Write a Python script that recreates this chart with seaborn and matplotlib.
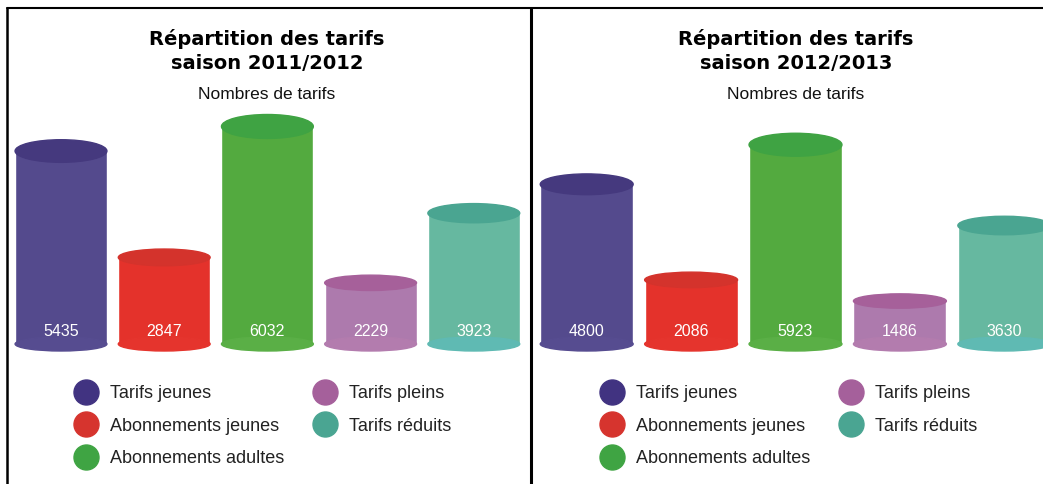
import matplotlib.pyplot as plt
import seaborn as sns
from matplotlib.patches import Ellipse
from matplotlib.lines import Line2D

# data
categories = ['Tarifs jeunes', 'Abonnements jeunes', 'Abonnements adultes',
              'Tarifs pleins', 'Tarifs réduits']
values_2011 = [5435, 2847, 6032, 2229, 3923]
values_2012 = [4800, 2086, 5923, 1486, 3630]
seasons = ['2011/2012', '2012/2013']

body_colors = ['#544a8d', '#e4322b', '#53aa3f', '#ad7aad', '#66b8a0']
top_colors = ['#45397e', '#d4332c', '#3fa343', '#a6609a', '#4aa591']
base_colors = ['#564c90', '#e5342d', '#5aaf46', '#b37cae', '#5fbab3']
legend_colors = ['#413381', '#d6342e', '#3fa443', '#a5609b', '#4aa592']

W, H = 1043, 484
BAR_W = 0.89

sns.set_style('white')
plt.rcParams['font.family'] = ['Liberation Sans', 'DejaVu Sans']

fig = plt.figure(figsize=(W / 100, H / 100), dpi=100)


def px_axes(x0, x1, y_top, y_bot):
    return fig.add_axes([x0 / W, 1 - y_bot / H, (x1 - x0) / W, (y_bot - y_top) / H])


panels = [
    dict(values=values_2011, season=seasons[0], x0=7, x1=530, c0=61, step=103.2,
         ylim=(741, 6676), tx=267, lx=77),
    dict(values=values_2012, season=seasons[1], x0=531, x1=1043, c0=586.7, step=104.4,
         ylim=(266, 7193), tx=796, lx=603),
]

Y_TOP, Y_BASE = 100, 344

for p in panels:
    ax = px_axes(p['x0'], p['x1'], Y_TOP, Y_BASE)
    sns.barplot(x=categories, y=p['values'], hue=categories, palette=body_colors,
                width=BAR_W, saturation=1, legend=False, ax=ax)
    lo = -(p['c0'] - p['x0']) / p['step']
    ax.set_xlim(lo, lo + (p['x1'] - p['x0']) / p['step'])
    ymin, ymax = p['ylim']
    ax.set_ylim(ymin, ymax)
    ax.axis('off')

    ppu = (Y_BASE - Y_TOP) / (ymax - ymin)  # pixels per value unit
    for i, v in enumerate(p['values']):
        h_px = (v - ymin) * ppu
        e_px = 12 + 0.055 * h_px
        ax.add_patch(Ellipse((i, v), BAR_W, e_px / ppu, color=top_colors[i],
                             zorder=4, clip_on=False))
        ax.add_patch(Ellipse((i, ymin), BAR_W, 14 / ppu, color=base_colors[i],
                             zorder=3, clip_on=False))
        ax.annotate(str(v), (i, ymin), xytext=(0, 8), textcoords='offset pixels',
                    ha='center', va='baseline', color='white', fontsize=11.5,
                    zorder=5)

    fig.text(p['tx'] / W, 1 - 45 / H, 'Répartition des tarifs', ha='center',
             va='baseline', fontsize=14, fontweight='bold', family='DejaVu Sans',
             color='black')
    fig.text(p['tx'] / W, 1 - 69.3 / H, 'saison ' + p['season'], ha='center',
             va='baseline', fontsize=14, fontweight='bold', family='DejaVu Sans',
             color='black')
    fig.text(p['tx'] / W, 1 - 99 / H, 'Nombres de tarifs', ha='center',
             va='baseline', fontsize=12.5, color='#111111')

    handles = [Line2D([], [], ls='', marker='o', markersize=18,
                      markerfacecolor=c, markeredgecolor=c) for c in legend_colors]
    ax.legend(handles, categories, ncol=2, loc='upper left',
              bbox_to_anchor=(p['lx'] / W, 1 - 385 / H), bbox_transform=fig.transFigure,
              frameon=False, fontsize=13, handlelength=1.0, handletextpad=0.8,
              columnspacing=1.8, labelspacing=0.86, borderpad=0, borderaxespad=0,
              labelcolor='#222222')

# panel borders
fig.add_artist(Line2D([7 / W, 1], [1 - 8 / H] * 2, transform=fig.transFigure,
                      color='black', lw=1.5))
fig.add_artist(Line2D([7 / W] * 2, [0, 1 - 8 / H], transform=fig.transFigure,
                      color='black', lw=1.8))
fig.add_artist(Line2D([531 / W] * 2, [0, 1 - 8 / H], transform=fig.transFigure,
                      color='black', lw=2.2))

fig.savefig('out.png', dpi=100)
